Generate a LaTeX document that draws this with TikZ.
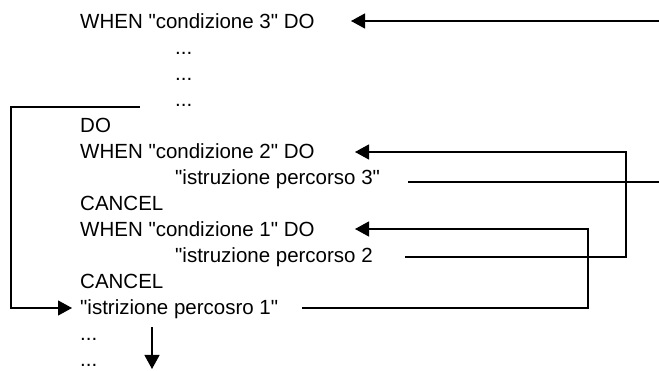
\documentclass[tikz,border=0pt]{standalone}
\usepackage{fontspec}
\setmainfont{Liberation Sans}
% code font: no TeX quote mapping, so " stays a straight quote
\newfontfamily\codefont{Liberation Sans}[Ligatures=TeXOff]
\usetikzlibrary{arrows.meta}
\begin{document}
\begin{tikzpicture}[x=1pt,y=-1pt,
  code/.style={anchor=base west,inner sep=0pt,font=\codefont\fontsize{20.5}{26}\selectfont},
  wire/.style={line width=1.2pt},
  arr/.style={wire,-{Triangle[length=14pt,width=15pt]}}]
\useasboundingbox (0,0) rectangle (659,371);
% program text, one line every 26 units
\node[code] (w3)  at (80,28.5)  {WHEN "condizione 3" DO};
\node[code] (d1)  at (175,54.5) {...};
\node[code] (d2)  at (175,80.5) {...};
\node[code] (d3)  at (175,106.5) {...};
\node[code] (do)  at (80,132.5) {DO};
\node[code] (w2)  at (80,158.5) {WHEN "condizione 2" DO};
\node[code] (i3)  at (175,184.5) {"istruzione percorso 3"};
\node[code] (c1)  at (80,210.5) {CANCEL};
\node[code] (w1)  at (80,236.5) {WHEN "condizione 1" DO};
\node[code] (i2)  at (175,262.5) {"istruzione percorso 2};
\node[code] (c2)  at (80,288.5) {CANCEL};
\node[code] (i1)  at (80,314.5) {"istrizione percosro 1"};
\node[code] (d4)  at (80,340.5) {...};
\node[code] (d5)  at (80,366.5) {...};
% connector points
\coordinate (e3)  at (659,21);
\coordinate (t3)  at (351,21);
\coordinate (ls)  at (140,107);
\coordinate (lc1) at (11,107);
\coordinate (lc2) at (11,308);
\coordinate (t1)  at (72,308);
\coordinate (s2)  at (405,257);
\coordinate (b1)  at (626,257);
\coordinate (b2)  at (626,152);
\coordinate (t2)  at (355,152);
\coordinate (s3)  at (408,182);
\coordinate (e2)  at (659,182);
\coordinate (s1)  at (302,308);
\coordinate (a1)  at (588,308);
\coordinate (a2)  at (588,229);
\coordinate (tw1) at (355,229);
\coordinate (ds)  at (152,327);
\coordinate (de)  at (152,369);
% connectors
\draw[arr] (e3) -- (t3);
\draw[arr] (ls) -- (lc1) -- (lc2) -- (t1);
\draw[arr] (s2) -- (b1) -- (b2) -- (t2);
\draw[wire] (s3) -- (e2);
\draw[arr] (s1) -- (a1) -- (a2) -- (tw1);
\draw[arr] (ds) -- (de);
\end{tikzpicture}
\end{document}
